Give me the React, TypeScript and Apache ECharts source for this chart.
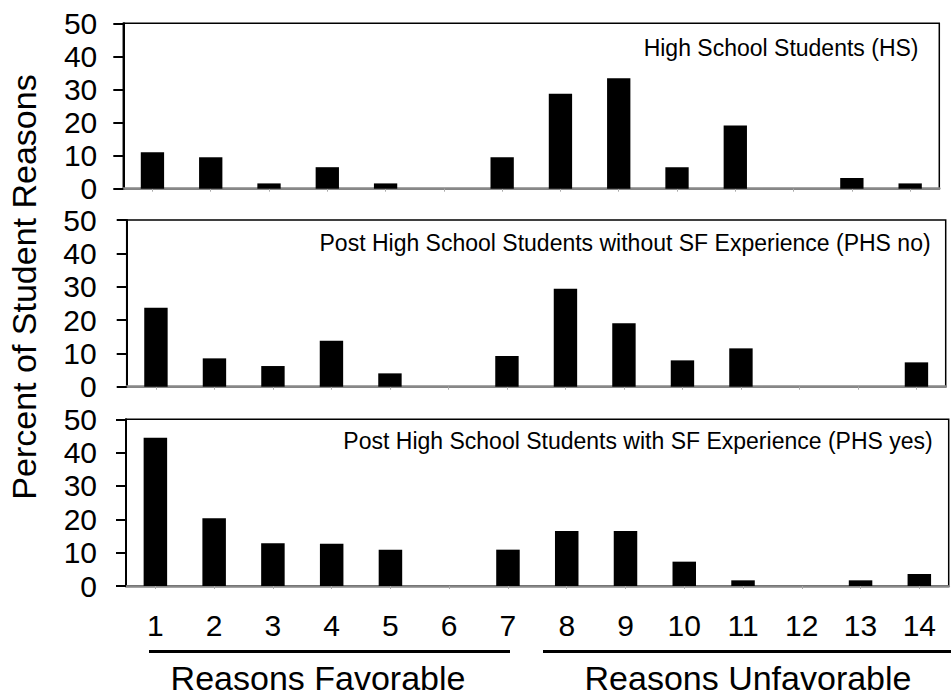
import React, { useEffect, useRef } from "react";
import * as echarts from "echarts";

const categories = ["1", "2", "3", "4", "5", "6", "7", "8", "9", "10", "11", "12", "13", "14"];
const hsValues = [11.0, 9.5, 1.6, 6.5, 1.6, 0, 9.5, 28.7, 33.4, 6.5, 19.1, 0, 3.2, 1.6];
const phsNoValues = [23.7, 8.5, 6.2, 13.8, 4.0, 0, 9.2, 29.4, 19.0, 7.9, 11.5, 0, 0, 7.3];
const phsYesValues = [44.5, 20.3, 12.8, 12.7, 10.9, 0, 10.9, 16.5, 16.5, 7.3, 1.7, 0, 1.7, 3.6];
const panelTitles = [
  "High School Students (HS)",
  "Post High School Students without SF Experience (PHS no)",
  "Post High School Students with SF Experience (PHS yes)",
];
const yAxisTitle = "Percent of Student Reasons";
const groupLabels = ["Reasons Favorable", "Reasons Unfavorable"];
const yMin = 0;
const yMax = 50;
const yInterval = 10;

const FONT = "'Liberation Sans', Arial, Helvetica, sans-serif";

export default function App() {
  const ref = useRef<HTMLDivElement>(null);

  useEffect(() => {
    if (!ref.current) return;
    const chart = echarts.init(ref.current, undefined, { renderer: "svg" });

    const grids = [
      { left: 123.3, top: 23.3, width: 816, height: 165.4 },
      { left: 126.7, top: 220, width: 819, height: 166.7 },
      { left: 126, top: 419.3, width: 822.7, height: 166.7 },
    ];
    const labelMargins = [26, 30, 29];
    const seriesData = [hsValues, phsNoValues, phsYesValues];
    const titleRight = [918.5, 930.6, 932.7];
    const titleY = [48.3, 242.5, 441];

    const option: any = {
      animation: false,
      backgroundColor: "#ffffff",
      grid: grids.map((g) => ({
        ...g,
        show: true,
        borderColor: "#000",
        borderWidth: 1.5,
        backgroundColor: "transparent",
        containLabel: false,
      })),
      xAxis: grids.map((_, i) => ({
        type: "category",
        gridIndex: i,
        data: categories,
        boundaryGap: true,
        axisLine: { show: true, lineStyle: { color: "#888", width: 2.5 } },
        axisTick: { show: true, alignWithLabel: true, length: 3, lineStyle: { color: "#aaa", width: 1 } },
        axisLabel: {
          show: i === 2,
          fontSize: 30,
          color: "#000",
          fontFamily: FONT,
          margin: 24,
          interval: 0,
        },
        splitLine: { show: false },
      })),
      yAxis: grids.map((_, i) => ({
        type: "value",
        gridIndex: i,
        min: yMin,
        max: yMax,
        interval: yInterval,
        axisLine: { show: true, lineStyle: { color: "#000", width: 2 } },
        axisTick: { show: true, inside: false, length: 10, lineStyle: { color: "#000", width: 2 } },
        axisLabel: {
          fontSize: 30,
          color: "#000",
          fontFamily: FONT,
          margin: labelMargins[i],
        },
        splitLine: { show: false },
      })),
      series: seriesData.map((d, i) => ({
        type: "bar",
        xAxisIndex: i,
        yAxisIndex: i,
        data: d,
        barWidth: "40%",
        itemStyle: { color: "#000" },
      })),
      graphic: [
        ...panelTitles.map((t, i) => ({
          type: "text",
          x: titleRight[i],
          y: titleY[i],
          style: {
            text: t,
            fontSize: 23,
            fontFamily: FONT,
            fill: "#000",
            align: "right",
            verticalAlign: "middle",
          },
        })),
        {
          type: "text",
          x: 24,
          y: 287,
          rotation: Math.PI / 2,
          style: {
            text: yAxisTitle,
            fontSize: 34,
            fontFamily: FONT,
            fill: "#000",
            align: "center",
            verticalAlign: "middle",
          },
        },
        {
          type: "line",
          shape: { x1: 149, y1: 651.5, x2: 510, y2: 651.5 },
          style: { stroke: "#000", lineWidth: 3 },
        },
        {
          type: "line",
          shape: { x1: 543, y1: 651.5, x2: 951, y2: 651.5 },
          style: { stroke: "#000", lineWidth: 3 },
        },
        {
          type: "text",
          x: 318,
          y: 678,
          style: {
            text: groupLabels[0],
            fontSize: 34,
            fontFamily: FONT,
            fill: "#000",
            align: "center",
            verticalAlign: "middle",
          },
        },
        {
          type: "text",
          x: 748,
          y: 678,
          style: {
            text: groupLabels[1],
            fontSize: 34,
            fontFamily: FONT,
            fill: "#000",
            align: "center",
            verticalAlign: "middle",
          },
        },
      ],
    };

    chart.setOption(option);
    return () => chart.dispose();
  }, []);

  return (
    <div
      ref={ref}
      style={{ position: "fixed", left: 0, top: 0, width: 951, height: 698, background: "#fff" }}
    />
  );
}
